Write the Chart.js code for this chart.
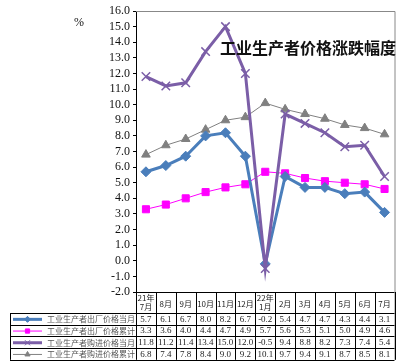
<!DOCTYPE html>
<html>
<head>
<meta charset="utf-8">
<script src="https://cdn.jsdelivr.net/npm/chart.js"></script>
<style>
  html, body { margin: 0; padding: 0; background: #fff; }
  #wrap { width: 402px; height: 364px; position: relative; }
</style>
</head>
<body>
<div id="wrap"><canvas id="myChart" width="402" height="364"></canvas></div>
<script>
// data
const months = [['21年', '7月'], ['8月'], ['9月'], ['10月'], ['11月'], ['12月'], ['22年', '1月'], ['2月'], ['3月'], ['4月'], ['5月'], ['6月'], ['7月']];
const seriesNames = ['工业生产者出厂价格当月', '工业生产者出厂价格累计', '工业生产者购进价格当月', '工业生产者购进价格累计'];
const outMonth = [5.7, 6.1, 6.7, 8.0, 8.2, 6.7, -0.2, 5.4, 4.7, 4.7, 4.3, 4.4, 3.1];
const outTotal = [3.3, 3.6, 4.0, 4.4, 4.7, 4.9, 5.7, 5.6, 5.3, 5.1, 5.0, 4.9, 4.6];
const inMonth = [11.8, 11.2, 11.4, 13.4, 15.0, 12.0, -0.5, 9.4, 8.8, 8.2, 7.3, 7.4, 5.4];
const inTotal = [6.8, 7.4, 7.8, 8.4, 9.0, 9.2, 10.1, 9.7, 9.4, 9.1, 8.7, 8.5, 8.1];
const yMin = -2, yMax = 16;
const title = '工业生产者价格涨跌幅度';

const blue = '#4a7ebb', pink = '#ff00ff', purple = '#7b5ea7', gray = '#808080';

const allData = [outMonth, outTotal, inMonth, inTotal];
const looks = [
  { color: blue, width: 3, style: 'rectRot', r: 5 },
  { color: pink, width: 1, style: 'rect', r: 5 },
  { color: purple, width: 3, style: 'crossRot', r: 6 },
  { color: gray, width: 1, style: 'triangle', r: 5 }
];

// draws the frame, title, % label and the data table under the chart
const tablePlugin = {
  id: 'tablePlugin',
  afterDraw(chart) {
    const ctx = chart.ctx;
    const area = chart.chartArea;
    const xs = chart.scales.x;
    const colW = xs.getPixelForValue(1) - xs.getPixelForValue(0);
    const left = area.left, right = area.right;
    const top = area.bottom;
    const headH = 21, rowH = 11.7;
    const legL = 10;
    ctx.save();

    // frame top/right
    ctx.strokeStyle = '#888';
    ctx.lineWidth = 1;
    ctx.beginPath();
    ctx.moveTo(left, area.top + 0.5);
    ctx.lineTo(right + 0.5, area.top + 0.5);
    ctx.lineTo(right + 0.5, top + headH + rowH * 4);
    ctx.stroke();

    // % and title
    ctx.fillStyle = '#111';
    ctx.font = '12px "Liberation Serif", serif';
    ctx.textAlign = 'center';
    ctx.textBaseline = 'middle';
    ctx.fillText('%', 79, 23);
    ctx.font = 'bold 16px "Noto Sans CJK SC"';
    ctx.textAlign = 'right';
    ctx.fillText(title, 396, 48);

    // table lines
    ctx.strokeStyle = '#000';
    ctx.lineWidth = 1;
    const bottom = top + headH + rowH * 4;
    ctx.beginPath();
    ctx.moveTo(left, top + 0.5);
    ctx.lineTo(right, top + 0.5);
    for (let r = 0; r <= 4; r++) {
      const y = Math.round(top + headH + rowH * r) + 0.5;
      ctx.moveTo(legL, y);
      ctx.lineTo(right, y);
    }
    for (let i = 0; i <= months.length; i++) {
      const x = Math.round(xs.getPixelForValue(i) - colW / 2) + 0.5;
      ctx.moveTo(x, top);
      ctx.lineTo(x, bottom);
    }
    ctx.moveTo(legL + 0.5, top + headH);
    ctx.lineTo(legL + 0.5, bottom);
    ctx.stroke();

    // header
    ctx.textAlign = 'center';
    ctx.fillStyle = '#222';
    ctx.font = '8px "Noto Sans CJK SC"';
    months.forEach((m, i) => {
      const x = xs.getPixelForValue(i);
      if (m.length === 2) {
        ctx.fillText(m[0], x, top + 6);
        ctx.fillText(m[1], x, top + 15);
      } else {
        ctx.fillText(m[0], x, top + headH / 2 + 1);
      }
    });

    // rows
    allData.forEach((vals, r) => {
      const y = top + headH + rowH * r + rowH / 2 + 0.5;
      ctx.font = '9px "Liberation Serif", serif';
      ctx.textAlign = 'center';
      ctx.fillStyle = '#222';
      vals.forEach((v, i) => {
        ctx.fillText(v.toFixed(1), xs.getPixelForValue(i), y);
      });
      // legend key
      const lk = looks[r];
      ctx.strokeStyle = lk.color;
      ctx.fillStyle = lk.color;
      ctx.lineWidth = lk.width;
      ctx.beginPath();
      ctx.moveTo(13, y);
      ctx.lineTo(42, y);
      ctx.stroke();
      ctx.lineWidth = 1;
      Chart.helpers.drawPoint(ctx, {
        pointStyle: lk.style, radius: lk.r * 0.6, rotation: 0, borderWidth: 1
      }, 27.5, y);
      ctx.fillStyle = '#555';
      ctx.font = '8px "Noto Sans CJK SC"';
      ctx.textAlign = 'left';
      ctx.fillText(seriesNames[r], 47, y);
    });
    ctx.restore();
  }
};

const datasets = allData.map((vals, i) => ({
  label: seriesNames[i],
  data: vals,
  borderColor: looks[i].color,
  backgroundColor: looks[i].color,
  borderWidth: looks[i].width,
  pointStyle: looks[i].style,
  pointRadius: looks[i].r,
  pointBorderColor: looks[i].color,
  pointBackgroundColor: looks[i].color,
  pointBorderWidth: i === 2 ? 1.5 : 1,
  tension: 0,
  order: [1, 2, 0, 3][i]
}));

const ctx = document.getElementById('myChart').getContext('2d');
new Chart(ctx, {
  type: 'line',
  data: { labels: months.map(m => m.join('')), datasets: datasets },
  options: {
    responsive: false,
    animation: false,
    layout: { padding: { top: 11, right: 2, bottom: 72, left: 0 } },
    plugins: { legend: { display: false }, tooltip: { enabled: false } },
    scales: {
      x: { display: false, offset: true },
      y: {
        min: yMin,
        max: yMax,
        afterFit(scale) { scale.width = 136; },
        ticks: {
          stepSize: 1,
          autoSkip: false,
          color: '#111',
          font: { family: '"Liberation Serif", serif', size: 12 },
          padding: 3,
          callback: v => Number(v).toFixed(1)
        },
        grid: { drawOnChartArea: false, drawTicks: true, tickLength: 3, color: '#000' },
        border: { display: true, color: '#000', width: 1 }
      }
    }
  },
  plugins: [tablePlugin]
});
</script>
</body>
</html>
